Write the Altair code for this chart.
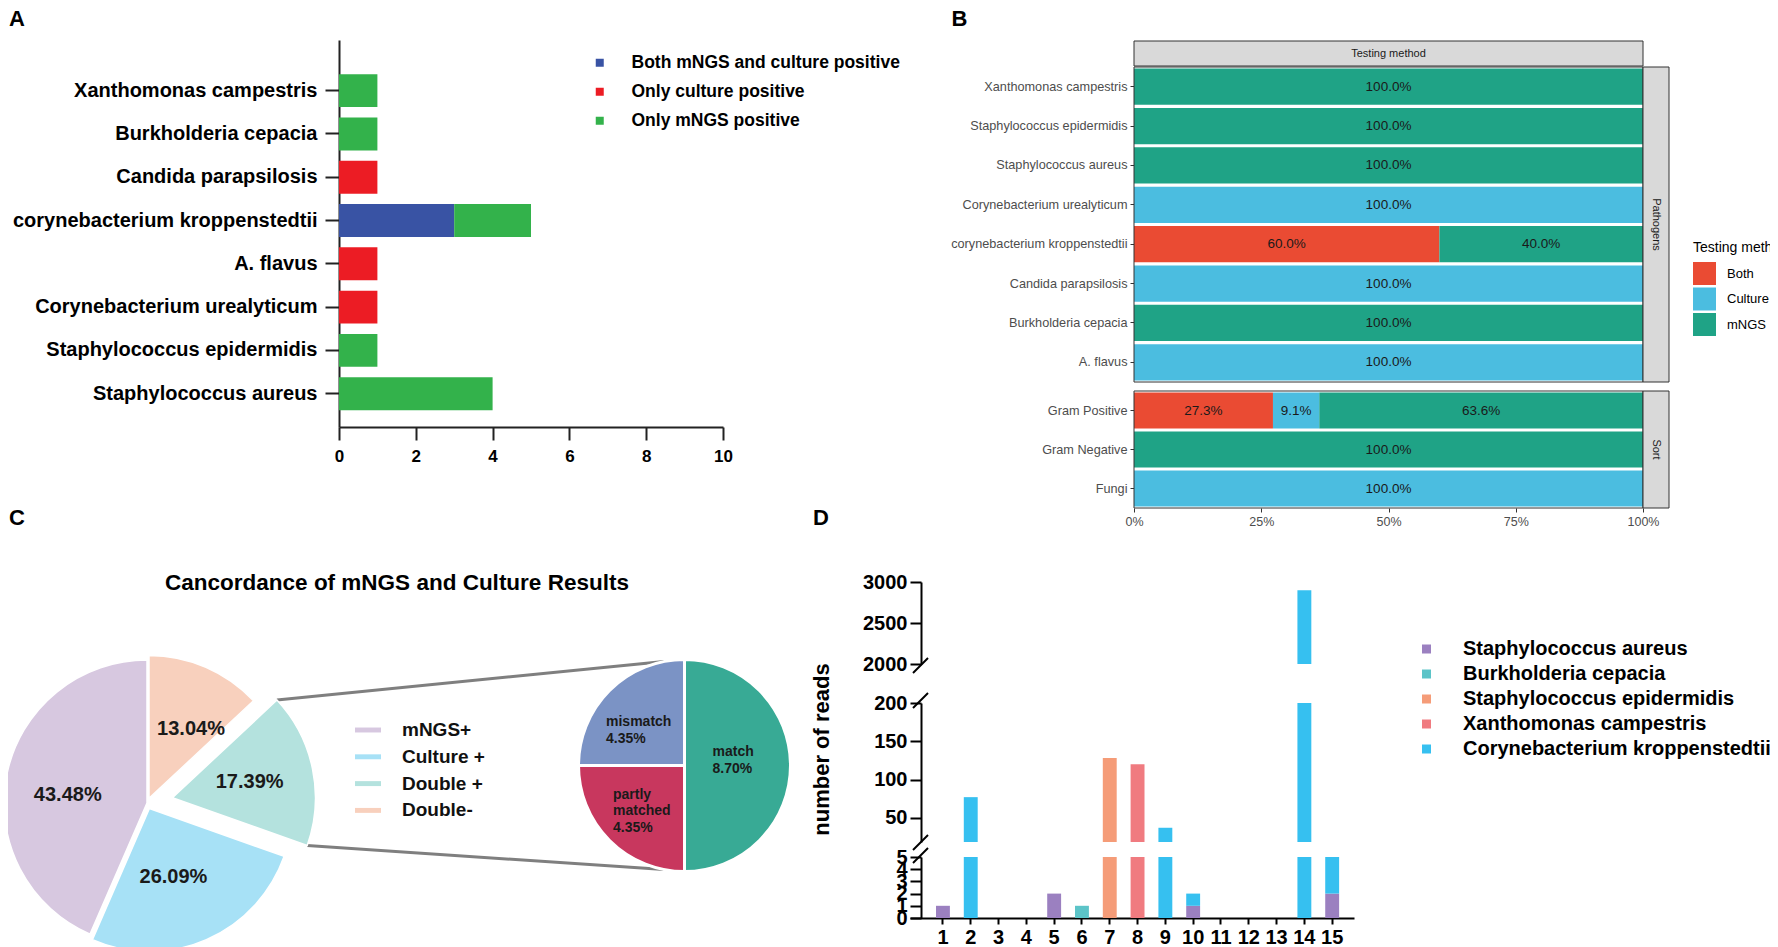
import math
import altair as alt
import pandas as pd

W, H = 1762, 939
FONT = "Liberation Sans"

# ---------------- data ----------------
# Panel A
a_species = ["Xanthomonas campestris", "Burkholderia cepacia", "Candida parapsilosis",
             "corynebacterium kroppenstedtii", "A. flavus", "Corynebacterium urealyticum",
             "Staphylococcus epidermidis", "Staphylococcus aureus"]
a_groups = ["Both mNGS and culture positive", "Only culture positive", "Only mNGS positive"]
a_both = [0, 0, 0, 3, 0, 0, 0, 0]
a_culture = [0, 0, 1, 0, 1, 1, 0, 0]
a_mngs = [1, 1, 0, 2, 0, 0, 1, 4]
a_ticks = [0, 2, 4, 6, 8, 10]

# Panel B
b_pathogens = ["Xanthomonas campestris", "Staphylococcus epidermidis", "Staphylococcus aureus",
               "Corynebacterium urealyticum", "corynebacterium kroppenstedtii",
               "Candida parapsilosis", "Burkholderia cepacia", "A. flavus"]
b_path_both = [0, 0, 0, 0, 60.0, 0, 0, 0]
b_path_culture = [0, 0, 0, 100.0, 0, 100.0, 0, 100.0]
b_path_mngs = [100.0, 100.0, 100.0, 0, 40.0, 0, 100.0, 0]
b_sorts = ["Gram Positive", "Gram Negative", "Fungi"]
b_sort_both = [27.3, 0, 0]
b_sort_culture = [9.1, 0, 100.0]
b_sort_mngs = [63.6, 100.0, 0]
b_methods = ["Both", "Culture", "mNGS"]
b_ticks = [0, 25, 50, 75, 100]

# Panel C
c_slices = ["Double-", "Double +", "Culture +", "mNGS+"]   # clockwise from 12 o'clock
c_values = [13.04, 17.39, 26.09, 43.48]
c_legend = ["mNGS+", "Culture +", "Double +", "Double-"]
s_slices = ["match", "partly matched", "mismatch"]
s_values = [8.70, 4.35, 4.35]
s_text = ["match\n8.70%", "partly\nmatched\n4.35%", "mismatch\n4.35%"]

# Panel D
d_samples = [str(i) for i in range(1, 16)]
d_species = ["Staphylococcus aureus", "Burkholderia cepacia", "Staphylococcus epidermidis",
             "Xanthomonas campestris", "Corynebacterium kroppenstedtii"]
d_sa = [1, 0, 0, 0, 2, 0, 0, 0, 0, 1, 0, 0, 0, 0, 2]
d_bc = [0, 0, 0, 0, 0, 1, 0, 0, 0, 0, 0, 0, 0, 0, 0]
d_se = [0, 0, 0, 0, 0, 0, 128, 0, 0, 0, 0, 0, 0, 0, 0]
d_xc = [0, 0, 0, 0, 0, 0, 0, 120, 0, 0, 0, 0, 0, 0, 0]
d_ck = [0, 77, 0, 0, 0, 0, 0, 0, 37, 1, 0, 0, 0, 2900, 3]
d_top_ticks = [2000, 2500, 3000]
d_mid_ticks = [50, 100, 150, 200]
d_low_ticks = [0, 1, 2, 3, 4, 5]

# ---------------- styles ----------------
a_colors = ["#3953a4", "#ec1c24", "#33b24b"]
b_colors = ["#ea4b33", "#4bbde0", "#1fa386"]
c_colors = ["#d7c8e0", "#a7e1f6", "#b4e2de", "#f8d0bd"]   # legend order
c_explode = [5, 26, 6, 0]
c_label_dx = [9, -4, -9, 2]
c_label_dy = [7, 1, -8, 9]
s_colors = ["#38aa95", "#c8375e", "#7b93c5"]
s_label_dx = [-25, -34, -41]
s_label_dy = [-13.5, -8, -6]
d_colors = ["#9b80c0", "#5cc4c8", "#f59c78", "#f07b80", "#36c0f0"]
BIG_C, BIG_R = (139, 795), 143
SMALL_C, SMALL_R = (676.5, 757.5), 106


def one():
    return alt.Chart(pd.DataFrame({"k": [0]}))


def label(txt, x, y, size, weight="bold", angle=0, color="black"):
    return alt.Chart(pd.DataFrame({"t": [txt]})).mark_text(
        fontSize=size, fontWeight=weight, angle=angle, color=color,
        align="center", baseline="middle", font=FONT
    ).encode(text="t:N", x=alt.value(x), y=alt.value(y))


def box(x, x2, y, y2, fill="#d9d9d9", fill_op=1.0, stroke="#333333", sw=1):
    return one().mark_rect(fill=fill, fillOpacity=fill_op, stroke=stroke, strokeWidth=sw).encode(
        x=alt.value(x), x2=alt.value(x2), y=alt.value(y), y2=alt.value(y2))


def seg(x, y, x2, y2, color="black", sw=2):
    return one().mark_rule(color=color, strokeWidth=sw).encode(
        x=alt.value(x), y=alt.value(y), x2=alt.value(x2), y2=alt.value(y2))


layers = []

# ================= Panel A =================
rows = []
for i, sp in enumerate(a_species):
    acc = 0
    for g, vals in zip(a_groups, [a_both, a_culture, a_mngs]):
        v = vals[i]
        if v > 0:
            rows.append(dict(species=sp, group=g, x0=acc, x1=acc + v))
            acc += v
dfA = pd.DataFrame(rows)

a_x = alt.Scale(domain=[0, 10], range=[331, 715], nice=False, zero=False)
a_y = alt.Scale(domain=a_species, range=[32, 419], paddingInner=0.24, paddingOuter=0.589, align=0.67)
layers.append(alt.Chart(dfA).mark_bar().encode(
    x=alt.X("x0:Q", scale=a_x, axis=alt.Axis(
        orient="bottom", offset=419 - H, values=a_ticks, title=None, format="d",
        domainColor="#222222", domainWidth=2, tickColor="#222222", tickWidth=2, tickSize=13,
        labelFontSize=17, labelFontWeight="bold", labelColor="black", labelPadding=8,
        labelFlush=False)),
    x2="x1:Q",
    y=alt.Y("species:N", scale=a_y, axis=alt.Axis(
        orient="left", offset=-331, title=None, domainColor="#222222", domainWidth=2,
        tickColor="#222222", tickWidth=2, tickSize=14, labelFontSize=20,
        labelFontWeight="bold", labelColor="black", labelPadding=8, labelLimit=500)),
    color=alt.Color("group:N", scale=alt.Scale(domain=a_groups, range=a_colors), legend=alt.Legend(
        orient="none", legendX=583, legendY=46, title=None, symbolType="square", symbolSize=64,
        symbolStrokeWidth=0, labelFontSize=17.5, labelFontWeight="bold", labelColor="black",
        labelOffset=23, rowPadding=10, padding=0, labelLimit=500)),
))
layers.append(label("A", 9, 11, 22))

# ================= Panel B =================
def b_frame(names, both, cult, mngs):
    out = []
    for i, n in enumerate(names):
        acc = 0
        for m, v in zip(b_methods, [both[i], cult[i], mngs[i]]):
            if v > 0:
                out.append(dict(name=n, method=m, x0=acc, x1=acc + v, mid=acc + v / 2,
                                label=f"{v:.1f}%"))
                acc += v
    return pd.DataFrame(out)


dfBp = b_frame(b_pathogens, b_path_both, b_path_culture, b_path_mngs)
dfBs = b_frame(b_sorts, b_sort_both, b_sort_culture, b_sort_mngs)
b_x = alt.Scale(domain=[0, 100], range=[1126, 1635], nice=False, zero=False)
b_color = alt.Scale(domain=b_methods, range=b_colors)
b_yp = alt.Scale(domain=b_pathogens, range=[59, 374], paddingInner=0.08, paddingOuter=0.04)
b_ys = alt.Scale(domain=b_sorts, range=[383, 500], paddingInner=0.08, paddingOuter=0.04)


def b_yaxis():
    return alt.Axis(orient="left", offset=-1126, title=None, domain=False, tickSize=4,
                    tickColor="#333333", tickWidth=1, labelFontSize=12.7, labelColor="#4d4d4d",
                    labelPadding=3, labelLimit=500)


layers.append(alt.Chart(dfBp).mark_bar().encode(
    x=alt.X("x0:Q", scale=b_x, axis=None), x2="x1:Q",
    y=alt.Y("name:N", scale=b_yp, axis=b_yaxis()),
    color=alt.Color("method:N", scale=b_color, legend=alt.Legend(
        orient="none", legendX=1685, legendY=233, title="Testing method", titleFontSize=14,
        titleFontWeight="normal", titleColor="black", titlePadding=7, titleAnchor="start",
        symbolType="square", symbolSize=529, symbolStrokeWidth=0, labelFontSize=13,
        labelColor="black", labelOffset=11, rowPadding=2.5, padding=0)),
))
layers.append(alt.Chart(dfBs).mark_bar().encode(
    x=alt.X("x0:Q", scale=b_x, axis=alt.Axis(
        orient="bottom", offset=500 - H, values=b_ticks, labelExpr="datum.value + '%'",
        title=None, domain=False, tickSize=4, tickColor="#333333", labelFontSize=12.5,
        labelColor="#4d4d4d", labelPadding=3, labelFlush=False)),
    x2="x1:Q",
    y=alt.Y("name:N", scale=b_ys, axis=b_yaxis()),
    color=alt.Color("method:N", scale=b_color, legend=None),
))
for dfb, ys in [(dfBp, b_yp), (dfBs, b_ys)]:
    layers.append(alt.Chart(dfb).mark_text(fontSize=13.5, color="#1a1a1a").encode(
        x=alt.X("mid:Q", scale=b_x, axis=None),
        y=alt.Y("name:N", scale=ys, axis=None),
        text="label:N"))
layers.append(box(1126, 1635, 59, 374, fill_op=0))
layers.append(box(1126, 1635, 383, 500, fill_op=0))
layers.append(box(1126, 1635, 33, 58))
layers.append(box(1635, 1661, 59, 374))
layers.append(box(1635, 1661, 383, 500))
layers.append(label("Testing method", 1380.5, 45.5, 11, weight="normal", color="#1a1a1a"))
layers.append(label("Pathogens", 1648, 216.5, 11, weight="normal", angle=90, color="#1a1a1a"))
layers.append(label("Sort", 1648, 441.5, 11, weight="normal", angle=90, color="#1a1a1a"))
layers.append(label("B", 951.5, 11, 22))

# ================= Panel C =================
def pie_frame(names, values, center, explode, lab_r, lab_dx, lab_dy, texts):
    total = sum(values)
    out = []
    acc = 0.0
    for i, (n, v) in enumerate(zip(names, values)):
        t0 = 2 * math.pi * acc / total
        t1 = 2 * math.pi * (acc + v) / total
        mid = (t0 + t1) / 2
        e = explode[i]
        cx = center[0] + e * math.sin(mid)
        cy = center[1] - e * math.cos(mid)
        out.append(dict(name=n, value=v, t0=t0, t1=t1, cx=cx, cy=cy,
                        lx=cx + lab_r * math.sin(mid) + lab_dx[i],
                        ly=cy - lab_r * math.cos(mid) + lab_dy[i], label=texts[i]))
        acc += v
    return pd.DataFrame(out)


dfBig = pie_frame(c_slices, c_values, BIG_C, c_explode, 0.58 * BIG_R, c_label_dx, c_label_dy,
                  [f"{v:.2f}%" for v in c_values])
dfSmall = pie_frame(s_slices, s_values, SMALL_C, [0, 0, 0], 0.5 * SMALL_R, s_label_dx,
                    s_label_dy, s_text)

dp = dfBig[dfBig["name"] == "Double +"].iloc[0]
a1, a2 = math.radians(-11.2), math.radians(191.2)
dfConn = pd.DataFrame([
    dict(x=dp.cx + BIG_R * math.sin(dp.t0), y=dp.cy - BIG_R * math.cos(dp.t0),
         x2=SMALL_C[0] + SMALL_R * math.sin(a1), y2=SMALL_C[1] - SMALL_R * math.cos(a1)),
    dict(x=dp.cx + BIG_R * math.sin(dp.t1), y=dp.cy - BIG_R * math.cos(dp.t1),
         x2=SMALL_C[0] + SMALL_R * math.sin(a2), y2=SMALL_C[1] - SMALL_R * math.cos(a2)),
])

cxs = alt.Scale(domain=[0, W], range=[0, W], nice=False, zero=False)
cys = alt.Scale(domain=[0, H], range=[0, H], nice=False, zero=False)

layers.append(alt.Chart(dfConn).mark_rule(color="#7f7f7f", strokeWidth=3).encode(
    x=alt.X("x:Q", scale=cxs, axis=None), y=alt.Y("y:Q", scale=cys, axis=None),
    x2="x2:Q", y2="y2:Q"))
layers.append(alt.Chart(dfBig).mark_arc(outerRadius=BIG_R, stroke="white", strokeWidth=1.5).encode(
    x=alt.X("cx:Q", scale=cxs, axis=None), y=alt.Y("cy:Q", scale=cys, axis=None),
    theta=alt.Theta("t0:Q", scale=None), theta2=alt.Theta2("t1"),
    color=alt.Color("name:N", scale=alt.Scale(domain=c_legend, range=c_colors), legend=alt.Legend(
        orient="none", legendX=347, legendY=709, title=None,
        symbolType="M-1,-0.19H1V0.19H-1Z", symbolSize=676, symbolStrokeWidth=0,
        labelFontSize=19, labelFontWeight="bold", labelColor="#111111", labelOffset=21,
        rowPadding=3.8, padding=0)),
))
layers.append(alt.Chart(dfBig).mark_text(fontSize=20, fontWeight="bold", color="#1a1a1a").encode(
    x=alt.X("lx:Q", scale=cxs, axis=None), y=alt.Y("ly:Q", scale=cys, axis=None), text="label:N"))
layers.append(alt.Chart(dfSmall).mark_arc(outerRadius=SMALL_R, stroke="white", strokeWidth=3).encode(
    x=alt.X("cx:Q", scale=cxs, axis=None), y=alt.Y("cy:Q", scale=cys, axis=None),
    theta=alt.Theta("t0:Q", scale=None), theta2=alt.Theta2("t1"),
    color=alt.Color("name:N", scale=alt.Scale(domain=s_slices, range=s_colors), legend=None),
))
layers.append(alt.Chart(dfSmall).mark_text(
    fontSize=14, fontWeight="bold", color="#1a1a1a", align="left", baseline="middle",
    lineBreak="\n", lineHeight=16.5).encode(
    x=alt.X("lx:Q", scale=cxs, axis=None), y=alt.Y("ly:Q", scale=cys, axis=None), text="label:N"))
layers.append(label("Cancordance of mNGS and Culture Results", 389, 575, 22.5))
layers.append(label("C", 9, 510, 22))

# ================= Panel D =================
rows = []
for i, s in enumerate(d_samples):
    acc = 0
    for sp, vals in zip(d_species, [d_sa, d_bc, d_se, d_xc, d_ck]):
        v = vals[i]
        if v > 0:
            rows.append(dict(sample=s, species=sp, lo=acc, hi=acc + v))
            acc += v
dfD = pd.DataFrame(rows)

d_x = alt.Scale(domain=d_samples, range=[902, 1346], paddingInner=0.5, paddingOuter=0.735, align=0.636)
d_color = alt.Scale(domain=d_species, range=d_colors)


def d_yaxis(vals):
    return alt.Axis(orient="left", offset=-913, values=vals, title=None, format="d",
                    domainColor="black", domainWidth=2, tickColor="black", tickWidth=2,
                    tickSize=11, labelFontSize=20, labelFontWeight="bold", labelColor="black",
                    labelPadding=3, labelOverlap=False, labelFlush=False)


segments = [
    (alt.Scale(domain=[2000, 3000], range=[656, 574], clamp=True, nice=False, zero=False), d_top_ticks),
    (alt.Scale(domain=[18.4, 200], range=[834, 695], clamp=True, nice=False, zero=False), d_mid_ticks),
    (alt.Scale(domain=[0, 5], range=[910, 849], clamp=True, nice=False, zero=False), d_low_ticks),
]
for k, (ysc, ticks) in enumerate(segments):
    last = k == len(segments) - 1
    if last:
        xax = alt.Axis(orient="bottom", offset=910 - H, title=None, labelAngle=0,
                       domainColor="black", domainWidth=2, tickColor="black", tickWidth=2,
                       tickSize=6, labelFontSize=20, labelFontWeight="bold", labelColor="black",
                       labelPadding=3)
        leg = alt.Legend(orient="none", legendX=1408.5, legendY=631, title=None,
                         symbolType="square", symbolSize=81, symbolStrokeWidth=0,
                         labelFontSize=20, labelFontWeight="bold", labelColor="black",
                         labelOffset=26.5, rowPadding=5, padding=0, labelLimit=500)
    else:
        xax = None
        leg = None
    layers.append(alt.Chart(dfD).mark_bar().encode(
        x=alt.X("sample:N", scale=d_x, axis=xax),
        y=alt.Y("lo:Q", scale=ysc, axis=d_yaxis(ticks)),
        y2="hi:Q",
        color=alt.Color("species:N", scale=d_color, legend=leg),
    ))

layers.append(seg(905, 665, 920, 650))
layers.append(seg(905, 700, 920, 685))
layers.append(seg(905, 842, 920, 827))
layers.append(seg(905, 855, 920, 840))
layers.append(label("number of reads", 814, 741.5, 22, angle=270))
layers.append(label("D", 813, 510, 22))

chart = alt.layer(*layers).resolve_scale(
    x="independent", y="independent", color="independent"
).properties(
    width=W, height=H, padding=0, autosize=alt.AutoSizeParams(type="none")
).configure(font=FONT).configure_view(stroke=None).configure_axis(grid=False)

chart.save("out.html", embed_options={"renderer": "svg", "actions": False})
